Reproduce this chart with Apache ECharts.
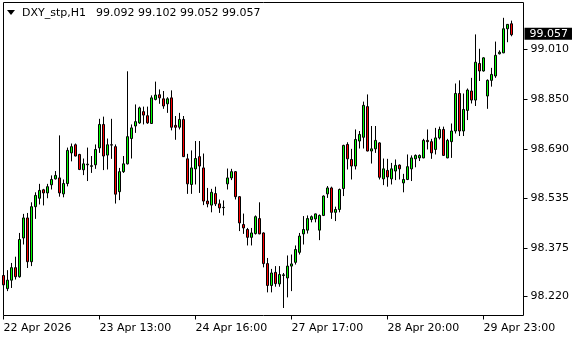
<!DOCTYPE html>
<html>
<head>
<meta charset="utf-8">
<script src="https://cdn.jsdelivr.net/npm/echarts@6/dist/echarts.min.js"></script>
<style>
  html, body { margin: 0; padding: 0; background: #fff; }
  #chart { width: 580px; height: 340px; }
</style>
</head>
<body>
<div id="chart"></div>
<script>
// DXY_stp H1, 128 bars
var opens = [
  98.287, 98.245, 98.272, 98.312, 98.283, 98.407, 98.471, 98.331, 98.507, 98.534, 98.561, 98.551, 98.577, 98.596, 98.599, 98.548,
  98.581, 98.679, 98.705, 98.674, 98.625, 98.641, 98.636, 98.641, 98.695, 98.770, 98.672, 98.705, 98.699, 98.555, 98.619, 98.644,
  98.725, 98.765, 98.775, 98.811, 98.798, 98.773, 98.850, 98.865, 98.852, 98.836, 98.855, 98.767, 98.761, 98.786, 98.660, 98.578,
  98.628, 98.667, 98.631, 98.525, 98.512, 98.549, 98.516, 98.504, 98.580, 98.599, 98.619, 98.539, 98.450, 98.434, 98.409, 98.421,
  98.469, 98.423, 98.325, 98.255, 98.297, 98.260, 98.287, 98.279, 98.317, 98.329, 98.361, 98.420, 98.432, 98.466, 98.468, 98.432,
  98.479, 98.548, 98.567, 98.489, 98.498, 98.565, 98.706, 98.658, 98.637, 98.717, 98.729, 98.827, 98.685, 98.692, 98.711, 98.596,
  98.623, 98.596, 98.621, 98.640, 98.583, 98.594, 98.628, 98.660, 98.663, 98.663, 98.719, 98.715, 98.690, 98.727, 98.754, 98.663,
  98.715, 98.749, 98.869, 98.749, 98.815, 98.877, 98.848, 98.965, 98.941, 98.861, 98.911, 98.925, 98.996, 98.999, 99.076, 99.092
]
var highs = [
  98.319, 98.304, 98.327, 98.347, 98.423, 98.484, 98.487, 98.521, 98.553, 98.580, 98.564, 98.580, 98.607, 98.621, 98.735, 98.594,
  98.696, 98.709, 98.709, 98.676, 98.661, 98.696, 98.669, 98.706, 98.788, 98.795, 98.725, 98.788, 98.706, 98.631, 98.669, 98.940,
  98.770, 98.834, 98.827, 98.827, 98.827, 98.863, 98.907, 98.882, 98.877, 98.857, 98.879, 98.797, 98.807, 98.797, 98.676, 98.687,
  98.717, 98.717, 98.677, 98.567, 98.564, 98.571, 98.530, 98.527, 98.629, 98.628, 98.621, 98.541, 98.485, 98.439, 98.439, 98.479,
  98.521, 98.425, 98.343, 98.308, 98.317, 98.317, 98.295, 98.351, 98.354, 98.383, 98.423, 98.477, 98.479, 98.479, 98.485, 98.482,
  98.543, 98.573, 98.571, 98.507, 98.565, 98.705, 98.713, 98.692, 98.754, 98.749, 98.843, 98.866, 98.765, 98.765, 98.713, 98.661,
  98.660, 98.647, 98.658, 98.642, 98.612, 98.674, 98.671, 98.674, 98.674, 98.724, 98.754, 98.724, 98.759, 98.763, 98.763, 98.724,
  98.773, 98.901, 98.911, 98.869, 98.885, 98.919, 99.058, 99.012, 98.985, 98.914, 98.951, 99.035, 99.007, 99.111, 99.091, 99.102
]
var lows = [
  98.226, 98.237, 98.247, 98.274, 98.280, 98.386, 98.311, 98.317, 98.468, 98.514, 98.511, 98.534, 98.562, 98.594, 98.539, 98.537,
  98.572, 98.652, 98.668, 98.624, 98.608, 98.589, 98.615, 98.628, 98.679, 98.624, 98.626, 98.660, 98.517, 98.528, 98.615, 98.642,
  98.661, 98.743, 98.772, 98.770, 98.772, 98.772, 98.847, 98.836, 98.820, 98.807, 98.751, 98.721, 98.754, 98.666, 98.548, 98.548,
  98.578, 98.551, 98.512, 98.505, 98.489, 98.509, 98.487, 98.479, 98.562, 98.592, 98.530, 98.429, 98.420, 98.383, 98.383, 98.418,
  98.419, 98.313, 98.233, 98.233, 98.251, 98.251, 98.183, 98.217, 98.237, 98.322, 98.354, 98.386, 98.421, 98.457, 98.457, 98.400,
  98.477, 98.535, 98.468, 98.461, 98.489, 98.541, 98.626, 98.594, 98.626, 98.693, 98.693, 98.684, 98.645, 98.679, 98.594, 98.576,
  98.571, 98.578, 98.592, 98.594, 98.553, 98.592, 98.589, 98.633, 98.653, 98.662, 98.690, 98.660, 98.674, 98.722, 98.669, 98.662,
  98.663, 98.741, 98.733, 98.733, 98.784, 98.837, 98.829, 98.909, 98.939, 98.820, 98.891, 98.919, 98.994, 98.998, 99.033, 99.052
]
var closes = [
  98.257, 98.272, 98.312, 98.283, 98.402, 98.471, 98.331, 98.507, 98.543, 98.559, 98.551, 98.571, 98.594, 98.607, 98.551, 98.581,
  98.687, 98.699, 98.669, 98.626, 98.644, 98.643, 98.638, 98.690, 98.770, 98.669, 98.705, 98.704, 98.547, 98.619, 98.644, 98.731,
  98.759, 98.779, 98.823, 98.800, 98.775, 98.855, 98.864, 98.855, 98.829, 98.852, 98.761, 98.761, 98.786, 98.667, 98.580, 98.631,
  98.661, 98.637, 98.525, 98.516, 98.553, 98.516, 98.503, 98.505, 98.599, 98.619, 98.539, 98.455, 98.439, 98.409, 98.423, 98.475,
  98.420, 98.325, 98.255, 98.295, 98.261, 98.290, 98.289, 98.317, 98.324, 98.370, 98.413, 98.434, 98.469, 98.475, 98.484, 98.479,
  98.541, 98.567, 98.489, 98.498, 98.562, 98.703, 98.660, 98.637, 98.722, 98.738, 98.831, 98.685, 98.692, 98.719, 98.601, 98.628,
  98.602, 98.628, 98.639, 98.628, 98.594, 98.635, 98.663, 98.671, 98.671, 98.719, 98.715, 98.679, 98.727, 98.754, 98.671, 98.719,
  98.749, 98.869, 98.749, 98.818, 98.880, 98.848, 98.969, 98.941, 98.983, 98.911, 98.930, 98.991, 99.001, 99.076, 99.090, 99.057
]

// time labels on the bottom scale (bar index -> text)
var tickIdx = [0, 24, 48, 72, 96, 120]
var tickText = ['22 Apr 2026', '23 Apr 13:00', '24 Apr 16:00', '27 Apr 17:00', '28 Apr 20:00', '29 Apr 23:00']
// price scale labels
var priceTicks = [98.220, 98.375, 98.535, 98.690, 98.850, 99.010]
var symbolText = 'DXY_stp,H1'
var shiftBars = 3 // empty space on the right

var font = 'DejaVu Sans'
var lastPrice = closes[closes.length - 1]
var ohlcText = [opens, highs, lows, closes].map(function (a) {
  return a[a.length - 1].toFixed(3)
}).join(' ')

var cats = []
for (var i = 0; i < opens.length + shiftBars; i++) cats.push(i)
var candles = opens.map(function (o, i) {
  return [o, closes[i], lows[i], highs[i]]
})

function isTick (idx) {
  return tickIdx.indexOf(idx) >= 0
}

var chart = echarts.init(document.getElementById('chart'))
var option = {
  animation: false,
  backgroundColor: '#fff',
  grid: {
    left: 3.5,
    top: 2.5,
    width: 520,
    height: 313,
    outerBoundsMode: 'none',
    show: true,
    borderColor: '#000',
    borderWidth: 1,
    backgroundColor: '#fff'
  },
  graphic: [{
    type: 'polygon',
    shape: { points: [[7, 10], [15, 10], [11, 15]] },
    style: { fill: '#000' }
  }, {
    type: 'text',
    left: 22,
    top: 8,
    style: { text: symbolText, font: '11px "' + font + '"', fill: '#000' }
  }, {
    type: 'text',
    left: 96,
    top: 8,
    style: { text: ohlcText, font: '11px "' + font + '"', fill: '#000' }
  }],
  xAxis: {
    type: 'category',
    data: cats,
    boundaryGap: false,
    axisLine: { show: false },
    axisTick: {
      show: true,
      length: 4,
      interval: function (idx) { return isTick(idx) },
      lineStyle: { color: '#000' }
    },
    axisLabel: {
      interval: function (idx) { return isTick(idx) },
      formatter: function (v, idx) {
        var k = tickIdx.indexOf(Number(v))
        return k >= 0 ? tickText[k] : ''
      },
      align: 'left',
      margin: 7,
      color: '#000',
      fontFamily: font,
      fontSize: 11
    },
    splitLine: { show: false }
  },
  yAxis: {
    type: 'value',
    position: 'right',
    min: 98.159,
    max: 99.160,
    axisLine: { show: false },
    axisTick: {
      show: true,
      length: 4,
      customValues: priceTicks,
      lineStyle: { color: '#000' }
    },
    axisLabel: {
      customValues: priceTicks,
      formatter: function (v) { return v.toFixed(3) },
      margin: 7,
      color: '#000',
      fontFamily: font,
      fontSize: 11
    },
    splitLine: { show: false }
  },
  series: [{
    type: 'candlestick',
    data: candles,
    barWidth: 2,
    clip: false,
    itemStyle: {
      color: '#00ff00',
      color0: '#ff0000',
      borderColor: '#000',
      borderColor0: '#000',
      borderColorDoji: '#000',
      borderWidth: 1
    },
    // current price tag on the right scale
    markLine: {
      silent: true,
      symbol: ['none', 'none'],
      lineStyle: { color: 'rgba(0,0,0,0)', width: 1 },
      label: {
        show: true,
        position: 'end',
        distance: 1,
        formatter: lastPrice.toFixed(3),
        backgroundColor: '#000',
        color: '#fff',
        padding: [1, 4, 0, 5],
        fontFamily: font,
        fontSize: 11
      },
      data: [{ yAxis: lastPrice }]
    }
  }]
}
chart.setOption(option)
window.addEventListener('resize', function () {
  chart.resize()
})
</script>
</body>
</html>
